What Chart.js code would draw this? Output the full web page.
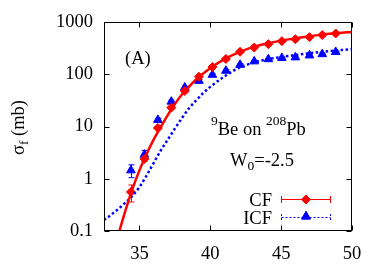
<!DOCTYPE html>
<html><head><meta charset="utf-8">
<script src="https://cdn.jsdelivr.net/npm/chart.js@4.4.1/dist/chart.umd.min.js"></script>
<style>html,body{margin:0;padding:0;background:#fff;}#wrap{width:382px;height:268px;}</style>
</head><body><div id="wrap"><canvas id="c" width="382" height="268"></canvas></div>
<script>
// ---- data ----
const expEnergies = [34.4, 35.35, 36.3, 37.25, 38.2, 39.2, 40.15, 41.1, 42.1, 43.1, 44.1, 45.05, 46.0, 47.0, 47.9, 48.85];
const cfExp  = [0.56, 2.4, 9.4, 23, 48, 90, 138, 197, 270, 325, 378, 432, 470, 515, 565, 605];
const cfErr  = [0.2, 0.25, 0.6, 1.2, 2.4, 4, 6, 8, 10, 12, 14, 15, 16, 17, 18, 19];
const icfExp = [1.45, 2.9, 13.4, 30, 56, 75, 98, 117, 152, 177, 195, 206, 211, 230, 243, 268];
const icfErr = [0.4, 0.6, 1.0, 2.0, 3, 4, 5, 6, 7, 8, 8, 9, 9, 10, 10, 11];

const cfCalcE = [33.5, 34, 34.5, 35, 35.5, 36, 36.5, 37, 37.5, 38, 38.5, 39, 39.5, 40, 41, 42, 43, 44, 45, 46, 47, 48, 49, 50];
const cfCalc  = [0.083, 0.24, 0.63, 1.45, 2.95, 5.6, 9.8, 16.6, 27, 41, 58, 80, 104, 131, 195, 263, 331, 389, 442, 490, 537, 582, 617, 646];
const icfCalcE = [32.5, 33, 33.5, 34, 34.5, 35, 35.5, 36, 36.5, 37, 37.5, 38, 38.5, 39, 39.5, 40, 41, 42, 43, 44, 45, 46, 47, 48, 49, 50];
const icfCalc  = [0.162, 0.204, 0.263, 0.347, 0.468, 0.692, 1.15, 2.0, 3.47, 5.62, 9.12, 14.5, 22.4, 31.6, 43.7, 57.5, 91.2, 132, 166, 193, 214, 234, 254, 272, 288, 302];

const xTicks = [35, 40, 45, 50];
const yTicks = [0.1, 1, 10, 100, 1000];
const xRange = [32.5, 50];
const yRange = [0.1, 1000];

const RED = '#ff0000', BLUE = '#0000ff';
const FONT = "'Liberation Serif', 'Times New Roman', serif";
const toXY = (xs, ys) => xs.map((x, i) => ({x: x, y: ys[i]}));

const errPlugin = {
  id: 'errbars',
  beforeDatasetsDraw(chart) {
    const ctx = chart.ctx, xs = chart.scales.x, ys = chart.scales.y;
    const sets = [[cfExp, cfErr, RED], [icfExp, icfErr, BLUE]];
    ctx.save();
    ctx.beginPath();
    ctx.rect(chart.chartArea.left, chart.chartArea.top, chart.chartArea.right - chart.chartArea.left, chart.chartArea.bottom - chart.chartArea.top);
    ctx.clip();
    ctx.lineWidth = 1;
    sets.forEach(([vals, errs, col]) => {
      ctx.strokeStyle = col;
      vals.forEach((v, i) => {
        const px = Math.round(xs.getPixelForValue(expEnergies[i])) + 0.5;
        const y1 = ys.getPixelForValue(v - errs[i]);
        const y2 = ys.getPixelForValue(v + errs[i]);
        ctx.beginPath();
        ctx.moveTo(px, y1); ctx.lineTo(px, y2);
        ctx.moveTo(px - 3, y1); ctx.lineTo(px + 3, y1);
        ctx.moveTo(px - 3, y2); ctx.lineTo(px + 3, y2);
        ctx.stroke();
      });
    });
    ctx.restore();
  }
};

const framePlugin = {
  id: 'frame',
  afterDatasetsDraw(chart) {
    const ctx = chart.ctx, a = chart.chartArea, xs = chart.scales.x, ys = chart.scales.y;
    ctx.save();
    ctx.strokeStyle = '#000';
    ctx.lineWidth = 1;
    const L = Math.round(a.left) + 0.5, R = Math.round(a.right) - 0.5, T = Math.round(a.top) + 0.5, B = Math.round(a.bottom) - 0.5;
    ctx.strokeRect(L, T, R - L, B - T);
    ctx.beginPath();
    xTicks.forEach(v => {
      const p = Math.round(xs.getPixelForValue(v)) + 0.5;
      ctx.moveTo(p, B); ctx.lineTo(p, B - 5);
      ctx.moveTo(p, T); ctx.lineTo(p, T + 5);
    });
    yTicks.forEach(v => {
      const p = Math.round(ys.getPixelForValue(v)) + 0.5;
      ctx.moveTo(L, p); ctx.lineTo(L + 5, p);
      ctx.moveTo(R, p); ctx.lineTo(R - 5, p);
    });
    ctx.stroke();

    // y axis title: sigma_f (mb)
    ctx.fillStyle = '#000';
    ctx.save();
    ctx.translate(24, 127.5);
    ctx.rotate(-Math.PI / 2);
    ctx.textBaseline = 'alphabetic';
    ctx.textAlign = 'left';
    const big = '18.5px ' + FONT, small = '13.5px ' + FONT;
    ctx.font = big; const w1 = ctx.measureText('σ').width; const w3 = ctx.measureText(' (mb)').width;
    ctx.font = small; const w2 = ctx.measureText('f').width;
    let x0 = -(w1 + w2 + w3) / 2;
    ctx.font = big; ctx.fillText('σ', x0, 0);
    ctx.font = small; ctx.fillText('f', x0 + w1, 4);
    ctx.font = big; ctx.fillText(' (mb)', x0 + w1 + w2, 0);
    ctx.restore();

    // annotations
    ctx.textBaseline = 'alphabetic';
    ctx.textAlign = 'left';
    ctx.font = big;
    ctx.fillText('(A)', 125, 64);
    // 9Be on 208Pb
    let x = 211;
    ctx.font = small; ctx.fillText('9', x, 125); x += ctx.measureText('9').width;
    ctx.font = big; ctx.fillText('Be on ', x, 135); x += ctx.measureText('Be on ').width;
    ctx.font = small; ctx.fillText('208', x, 125); x += ctx.measureText('208').width;
    ctx.font = big; ctx.fillText('Pb', x, 135);
    // W0=-2.5
    x = 230;
    ctx.font = big; ctx.fillText('W', x, 166); x += ctx.measureText('W').width;
    ctx.font = small; ctx.fillText('0', x, 170); x += ctx.measureText('0').width;
    ctx.font = big; ctx.fillText('=-2.5', x, 166);

    // legend
    ctx.textAlign = 'right';
    ctx.font = big;
    ctx.fillText('CF', 272, 205.5);
    ctx.fillText('ICF', 272, 223.5);
    const lx1 = 281.5, lx2 = 330.5;
    // CF entry
    ctx.strokeStyle = RED; ctx.lineWidth = 1;
    ctx.beginPath();
    ctx.moveTo(lx1, 199.5); ctx.lineTo(lx2, 199.5);
    ctx.moveTo(lx1, 196); ctx.lineTo(lx1, 203);
    ctx.moveTo(lx2, 196); ctx.lineTo(lx2, 203);
    ctx.stroke();
    ctx.fillStyle = RED;
    Chart.helpers.drawPoint(ctx, {pointStyle: 'rectRot', radius: 4.5, rotation: 0, borderWidth: 1}, 306, 199.5);
    ctx.fill(); ctx.stroke();
    // ICF entry
    ctx.strokeStyle = BLUE; ctx.setLineDash([2, 2]);
    ctx.beginPath();
    ctx.moveTo(lx1, 217.5); ctx.lineTo(lx2, 217.5);
    ctx.moveTo(lx1, 214); ctx.lineTo(lx1, 221);
    ctx.moveTo(lx2, 214); ctx.lineTo(lx2, 221);
    ctx.stroke();
    ctx.setLineDash([]);
    ctx.fillStyle = BLUE;
    Chart.helpers.drawPoint(ctx, {pointStyle: 'triangle', radius: 5, rotation: 0, borderWidth: 1}, 306, 216.5);
    ctx.fill(); ctx.stroke();
    ctx.restore();
  }
};

new Chart(document.getElementById('c'), {
  type: 'scatter',
  data: {
    datasets: [
      {label: 'CF calc', data: toXY(cfCalcE, cfCalc), showLine: true, borderColor: RED, borderWidth: 2.5,
       pointRadius: 0, cubicInterpolationMode: 'monotone', fill: false},
      {label: 'ICF calc', data: toXY(icfCalcE, icfCalc), showLine: true, borderColor: BLUE, borderWidth: 2.5,
       borderDash: [2.5, 2.5], pointRadius: 0, cubicInterpolationMode: 'monotone', fill: false},
      {label: 'CF', data: toXY(expEnergies, cfExp), showLine: false, pointStyle: 'rectRot', pointRadius: 4.5,
       pointBackgroundColor: RED, pointBorderColor: RED, pointBorderWidth: 1},
      {label: 'ICF', data: toXY(expEnergies, icfExp), showLine: false, pointStyle: 'triangle', pointRadius: 5,
       pointBackgroundColor: BLUE, pointBorderColor: BLUE, pointBorderWidth: 1}
    ]
  },
  options: {
    responsive: false,
    animation: false,
    devicePixelRatio: 1,
    events: [],
    layout: {padding: {left: 0, right: 30, top: 21, bottom: 0}},
    plugins: {legend: {display: false}, tooltip: {enabled: false}, title: {display: false}},
    scales: {
      x: {
        type: 'linear', min: xRange[0], max: xRange[1],
        afterBuildTicks: s => { s.ticks = xTicks.map(v => ({value: v})); },
        afterFit: s => { s.height = 37; },
        grid: {display: false, drawTicks: false},
        border: {display: false},
        ticks: {color: '#000', font: {family: FONT, size: 18.5}, padding: 12, maxRotation: 0, callback: v => String(v)}
      },
      y: {
        type: 'logarithmic', min: yRange[0], max: yRange[1],
        afterBuildTicks: s => { s.ticks = yTicks.map(v => ({value: v})); },
        afterFit: s => { s.width = 104; },
        grid: {display: false, drawTicks: false},
        border: {display: false},
        ticks: {color: '#000', font: {family: FONT, size: 18.5}, padding: 11, callback: v => String(v)}
      }
    }
  },
  plugins: [errPlugin, framePlugin]
});
</script>
</body></html>
